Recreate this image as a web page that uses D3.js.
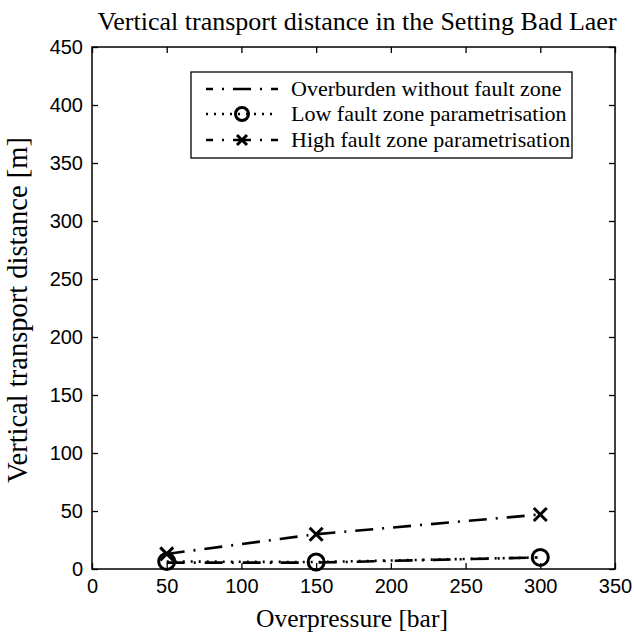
<!DOCTYPE html>
<html>
<head>
<meta charset="utf-8">
<script src="https://cdn.jsdelivr.net/npm/d3@7"></script>
<style>
  html, body { margin: 0; padding: 0; background: #fff; }
  svg { display: block; }
</style>
</head>
<body>
<svg id="chart" width="634" height="632"></svg>
<script>
// Overpressure levels [bar]
const pressures = [50, 150, 300];
// Vertical transport distance [m] per scenario
const overburdenValues = [5.5, 5.5, 10];
const lowFaultValues = [6.5, 6, 10];
const highFaultValues = [13, 30, 47];
const seriesNames = [
  "Overburden without fault zone",
  "Low fault zone parametrisation",
  "High fault zone parametrisation"
];
const xTicks = [0, 50, 100, 150, 200, 250, 300, 350];
const yTicks = [0, 50, 100, 150, 200, 250, 300, 350, 400, 450];

const svg = d3.select("#chart");
const m = { left: 92, right: 615, top: 47, bottom: 569 };

const x = d3.scaleLinear().domain([0, 350]).range([m.left, m.right]);
const y = d3.scaleLinear().domain([0, 450]).range([m.bottom, m.top]);

const serif = "'Liberation Serif', 'Times New Roman', serif";
const sans = "'Liberation Sans', Arial, Helvetica, sans-serif";

// Axes: labels outside, tick marks drawn inward on all four sides
const tickLen = 6;
const gx = svg.append("g").attr("transform", `translate(0,${m.bottom})`)
  .call(d3.axisBottom(x).tickValues(xTicks).tickSizeInner(-tickLen).tickSizeOuter(0).tickPadding(10));
const gy = svg.append("g").attr("transform", `translate(${m.left},0)`)
  .call(d3.axisLeft(y).tickValues(yTicks).tickSizeInner(-tickLen).tickSizeOuter(0).tickPadding(9));
const gxTop = svg.append("g").attr("transform", `translate(0,${m.top})`)
  .call(d3.axisTop(x).tickValues(xTicks).tickSizeInner(-tickLen).tickSizeOuter(0).tickFormat(""));
const gyRight = svg.append("g").attr("transform", `translate(${m.right},0)`)
  .call(d3.axisRight(y).tickValues(yTicks).tickSizeInner(-tickLen).tickSizeOuter(0).tickFormat(""));

[gx, gy, gxTop, gyRight].forEach(g => {
  g.select(".domain").remove();
  g.selectAll(".tick line").attr("stroke", "#000").attr("stroke-width", 1.3);
  g.selectAll(".tick text").attr("fill", "#000")
    .style("font-family", sans).style("font-size", "20px");
});

// Plot frame
svg.append("rect")
  .attr("x", m.left).attr("y", m.top)
  .attr("width", m.right - m.left).attr("height", m.bottom - m.top)
  .attr("fill", "none").attr("stroke", "#000").attr("stroke-width", 1.5);

// Titles
svg.append("text")
  .attr("x", 357).attr("y", 30)
  .attr("text-anchor", "middle")
  .style("font-family", serif).style("font-size", "26px")
  .text("Vertical transport distance in the Setting Bad Laer");
svg.append("text")
  .attr("x", 352).attr("y", 627)
  .attr("text-anchor", "middle")
  .style("font-family", serif).style("font-size", "25.5px")
  .text("Overpressure [bar]");
svg.append("text")
  .attr("transform", `translate(27,310) rotate(-90)`)
  .attr("text-anchor", "middle")
  .style("font-family", serif).style("font-size", "28.5px")
  .text("Vertical transport distance [m]");

// Line styles
const dashDot = "18,9,2,9";
const dotted = "2,6";
const styles = [
  { values: overburdenValues, dash: dashDot, marker: null },
  { values: lowFaultValues, dash: dotted, marker: "circle" },
  { values: highFaultValues, dash: dashDot, marker: "cross" }
];

const line = d3.line().x(d => x(d[0])).y(d => y(d[1]));

function drawMarker(g, type, cx, cy, size) {
  if (type === "circle") {
    g.append("circle").attr("cx", cx).attr("cy", cy).attr("r", size)
      .attr("fill", "none").attr("stroke", "#000").attr("stroke-width", 3);
  } else if (type === "cross") {
    g.append("path")
      .attr("d", `M${cx - size},${cy - size}L${cx + size},${cy + size}M${cx - size},${cy + size}L${cx + size},${cy - size}`)
      .attr("stroke", "#000").attr("stroke-width", 3).attr("fill", "none");
  }
}

const plot = svg.append("g");
styles.forEach(s => {
  const pts = pressures.map((p, i) => [p, s.values[i]]);
  plot.append("path").datum(pts)
    .attr("d", line)
    .attr("fill", "none").attr("stroke", "#000")
    .attr("stroke-width", 2.6).attr("stroke-dasharray", s.dash);
  if (s.marker) {
    pts.forEach(p => drawMarker(plot, s.marker, x(p[0]), y(p[1]), s.marker === "circle" ? 8 : 6.5));
  }
});

// Legend
const lg = svg.append("g");
const box = { x: 191, y: 72, w: 381, h: 86 };
lg.append("rect").attr("x", box.x).attr("y", box.y).attr("width", box.w).attr("height", box.h)
  .attr("fill", "#fff").attr("stroke", "#000").attr("stroke-width", 1.3);
const rowY = [89, 114, 140];
styles.forEach((s, i) => {
  lg.append("line")
    .attr("x1", 206).attr("x2", 278).attr("y1", rowY[i]).attr("y2", rowY[i])
    .attr("stroke", "#000").attr("stroke-width", 2.6)
    .attr("stroke-dasharray", s.dash)
    .attr("stroke-dashoffset", s.dash === dashDot ? 11 : 0);
  if (s.marker) drawMarker(lg, s.marker, 242, rowY[i], s.marker === "circle" ? 6.5 : 5);
  lg.append("text")
    .attr("x", 291).attr("y", rowY[i]).attr("dy", "0.33em")
    .style("font-family", serif).style("font-size", "22px")
    .text(seriesNames[i]);
});
</script>
</body>
</html>
